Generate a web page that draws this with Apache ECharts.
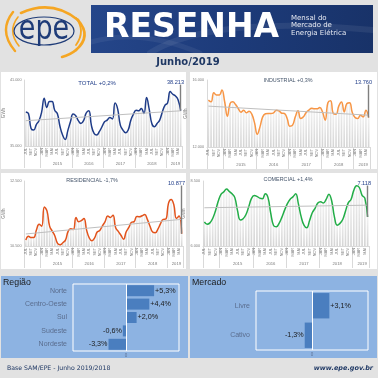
<!DOCTYPE html>
<html>
<head>
<meta charset="utf-8">
<script src="https://cdn.jsdelivr.net/npm/echarts@6/dist/echarts.min.js"></script>
<style>
	html, body { margin: 0; padding: 0; background: #e2e2e2; }
	#chart { width: 378px; height: 378px; }
</style>
</head>
<body>
<div id="chart"></div>
<script>
// ---- data ----
const monthNames = ["JAN", "FEV", "MAR", "ABR", "MAI", "JUN", "JUL", "AGO", "SET", "OUT", "NOV", "DEZ"];
const firstYear = 2014;
const firstMonth = 6; // JUL
const monthCount = 60;
const yearLabels = ["2015", "2016", "2017", "2018", "2019"];

const total = [38100, 37950, 36600, 36450, 36950, 37300, 38050, 39350, 38500, 39050, 39050, 38250,
	37950, 36800, 36000, 35600, 36400, 37200, 37900, 37750, 37300, 37050, 37300, 38000,
	38200, 36850, 36150, 36000, 36300, 36750, 37200, 37350, 37600, 37450, 38900, 38350,
	36900, 36450, 36200, 36450, 37350, 37900, 38250, 38200, 38400, 37950, 39400, 38350,
	37050, 36750, 37050, 37350, 38100, 38700, 38900, 39950, 39700, 39550, 39200, 38213];
const industrial = [14800, 14700, 15240, 15100, 15100, 15400, 14700, 13840, 14600, 14700, 14540, 14300,
	14080, 14200, 14040, 14140, 13960, 13440, 12760, 13200, 13800, 13980, 14000, 14000,
	14040, 14200, 14160, 14020, 14000, 13700, 13240, 13300, 13800, 14160, 13700, 13800,
	14060, 14200, 14320, 14280, 14280, 14360, 14100, 13600, 14640, 14760, 14000, 13960,
	14440, 14680, 14100, 14600, 14640, 14040, 13760, 13700, 13900, 13800, 14200, 13760];
const residential = [10680, 10800, 10760, 10760, 10990, 11170, 11110, 11700, 11580, 11110, 10960, 10810,
	10580, 10540, 10600, 10680, 10950, 11030, 11010, 11380, 11250, 11280, 11350, 10990,
	10750, 10660, 10740, 10930, 10980, 11120, 11250, 11420, 11380, 11450, 11060, 10950,
	10830, 10710, 10940, 11070, 11230, 11250, 11410, 11400, 11430, 11470, 11320, 11110,
	10930, 10910, 11020, 11190, 11320, 11330, 11810, 11930, 11780, 11350, 11420, 10877];
const commercial = [6930, 6840, 6890, 7060, 7350, 7720, 7990, 8080, 8190, 8100, 8010, 7860,
	7350, 7000, 7050, 7200, 7500, 7820, 7940, 7910, 7840, 7820, 8010, 7860,
	7250, 6790, 6740, 6870, 7100, 7380, 7630, 7800, 7890, 8010, 7610, 7120,
	6800, 6700, 6970, 7280, 7450, 7650, 7700, 7650, 7790, 7990, 7740, 7120,
	6800, 6870, 7020, 7340, 7660, 7790, 8140, 8320, 8250, 7950, 7840, 7118];

// trend line start / end values
const totalTrend = [37300, 38200];
const industrialTrend = [14440, 13900];
const residentialTrend = [10870, 11320];
const commercialTrend = [7470, 7570];

const regions = ["Norte", "Centro-Oeste", "Sul", "Sudeste", "Nordeste"];
const regionChange = [5.3, 4.4, 2.0, -0.6, -3.3];
const markets = ["Livre", "Cativo"];
const marketChange = [3.1, -1.3];

// ---- helpers ----
const fmtThousands = v => String(v).replace(/\B(?=(\d{3})+(?!\d))/g, ".");
const fmtPct = v => (v > 0 ? "+" : "") + v.toFixed(1).replace(".", ",") + "%";

const monthKeys = [];
const monthOf = [];
const yearOf = [];
for (let i = 0; i < monthCount; i++) {
	const m = (firstMonth + i) % 12;
	const y = firstYear + Math.floor((firstMonth + i) / 12);
	monthKeys.push(monthNames[m] + "|" + y);
	monthOf.push(m);
	yearOf.push(String(y));
}
// index of the middle month of each year group
const yearMid = {};
yearLabels.forEach(y => {
	const idx = yearOf.map((v, i) => (v === y ? i : -1)).filter(i => i >= 0);
	yearMid[idx[Math.floor(idx.length / 2)]] = y;
});

const lineCharts = [
	{ title: "TOTAL +0,2%", titleColor: "#1f3c88", titleX: 97, titleY: 83, data: total, trend: totalTrend,
		color: "#1f3c88", min: 35000, max: 41000, step: 1000,
		grid: { left: 19, top: 80, width: 163, height: 66 } },
	{ title: "INDUSTRIAL +0,3%", titleColor: "#44546a", titleX: 288, titleY: 81, data: industrial, trend: industrialTrend,
		color: "#f79646", min: 12000, max: 16000, step: 1000,
		grid: { left: 207, top: 80, width: 163, height: 67 } },
	{ title: "RESIDENCIAL -1,7%", titleColor: "#44546a", titleX: 92, titleY: 181, data: residential, trend: residentialTrend,
		color: "#e2531c", min: 10500, max: 12500, step: 500,
		grid: { left: 17, top: 181, width: 166, height: 65 } },
	{ title: "COMERCIAL +1,4%", titleColor: "#44546a", titleX: 288, titleY: 180, data: commercial, trend: commercialTrend,
		color: "#22ad47", min: 6000, max: 8500, step: 500,
		grid: { left: 203, top: 181, width: 166, height: 65 } }
];

const grids = [];
const xAxes = [];
const yAxes = [];
const series = [];
const graphics = [];

// ---- page background pieces ----
const rect = (x, y, width, height, fill, extra) =>
	Object.assign({ type: "rect", z: -10, shape: { x, y, width, height }, style: { fill } }, extra || {});
const text = (x, y, content, font, fill, align, extra) =>
	Object.assign({ type: "text", z: 50, x, y, style: { text: content, font, fill, align: align || "left", verticalAlign: "middle" } }, extra || {});
const curve = (x1, y1, cx, cy, x2, y2, stroke, lineWidth, z) =>
	({ type: "bezierCurve", z: z || 40, shape: { x1, y1, cpx1: cx, cpy1: cy, x2, y2 }, style: { fill: "none", stroke, lineWidth, lineCap: "round" } });

graphics.push(
	rect(1, 72, 185, 97, "#ffffff"),
	rect(190, 72, 187, 97, "#ffffff"),
	rect(1, 173, 185, 96, "#ffffff"),
	rect(190, 173, 187, 96, "#ffffff"),
	rect(1, 276, 187, 82, "#8db3e2"),
	rect(190, 276, 187, 82, "#8db3e2")
);

// header banner
graphics.push(
	rect(91, 5, 282, 48, new echarts.graphic.LinearGradient(0, 0, 1, 1, [
		{ offset: 0, color: "#25468a" },
		{ offset: 0.5, color: "#1d3b7a" },
		{ offset: 1, color: "#183268" }
	])),
	curve(150, 53, 210, 15, 373, 30, "rgba(255,255,255,0.07)", 6, -9),
	curve(91, 42, 140, 28, 200, 53, "rgba(255,255,255,0.06)", 5, -9),
	text(104, 28, "RESENHA", "bold 33px 'DejaVu Sans'", "#ffffff"),
	text(291, 18, "Mensal do", "7px 'DejaVu Sans'", "#e6e9f2"),
	text(291, 25.5, "Mercado de", "7px 'DejaVu Sans'", "#e6e9f2"),
	text(291, 33.5, "Energia Elétrica", "7px 'DejaVu Sans'", "#e6e9f2"),
	text(188, 62, "Junho/2019", "bold 10px 'DejaVu Sans'", "#1f3864", "center")
);

// logo
const orange = "#f5a623";
graphics.push(
	curve(21, 13, 52, -1, 78, 20, orange, 2.6),
	curve(78, 20, 92, 36, 76, 50, orange, 2.6),
	curve(76, 50, 70, 55, 62, 57, orange, 2.6),
	curve(76, 18, 86, 31, 76, 45, orange, 1.8),
	curve(13, 12, -2, 31, 15, 51, orange, 2.4),
	curve(18, 17, 7, 31, 19, 46, orange, 1.6),
	{ type: "ellipse", z: 40, shape: { cx: 44, cy: 31, rx: 30, ry: 14 }, style: { fill: "none", stroke: "#1f3c78", lineWidth: 1.2 } },
	text(44, 30, "epe", "27px 'DejaVu Sans'", "#1f3c78", "center", { scaleY: 1.25 })
);

// footer
graphics.push(
	text(7, 368, "Base SAM/EPE - Junho 2019/2018", "6.2px 'DejaVu Sans'", "#1f3864"),
	text(373, 368, "www.epe.gov.br", "italic bold 6.5px 'DejaVu Sans'", "#1f3864", "right")
);

// ---- line charts ----
lineCharts.forEach((cfg, k) => {
	const g = cfg.grid;
	grids.push(Object.assign({ containLabel: false, show: true, backgroundColor: "#ffffff", borderWidth: 0 }, g));
	const last = cfg.data[cfg.data.length - 1];

	xAxes.push({
		gridIndex: k, type: "category", data: monthKeys, boundaryGap: true,
		axisLine: { lineStyle: { color: "#d9d9d9" } },
		axisTick: { show: false },
		axisLabel: {
			interval: 1, rotate: 90, fontSize: 3.8, color: "#7a7a7a", margin: 2,
			fontFamily: "Liberation Sans",
			formatter: v => v.split("|")[0]
		}
	});
	xAxes.push({
		gridIndex: k, type: "category", data: monthKeys, boundaryGap: true, position: "bottom",
		axisLine: { show: false },
		axisTick: {
			show: true, length: 22, lineStyle: { color: "#d9d9d9" },
			interval: index => index === 0 || monthOf[index] === 0
		},
		axisLabel: {
			interval: index => yearMid[index] !== undefined,
			fontSize: 4.2, color: "#7a7a7a", margin: 15.5, fontFamily: "Liberation Sans",
			formatter: (v, i) => yearMid[i] || ""
		}
	});
	yAxes.push({
		gridIndex: k, type: "value", min: cfg.min, max: cfg.max, interval: cfg.step,
		name: "GWh", nameLocation: "middle", nameGap: 11, nameRotate: 90,
		nameTextStyle: { fontSize: 4.5, color: "#808080", fontFamily: "Liberation Sans" },
		axisLine: { show: true, lineStyle: { color: "#d9d9d9" } },
		axisTick: { show: false },
		splitLine: { show: false },
		axisLabel: {
			fontSize: 3.8, color: "#808080", margin: 3, fontFamily: "Liberation Sans",
			formatter: v => (v === cfg.min || v === cfg.max ? fmtThousands(v) : "")
		}
	});

	series.push({
		type: "bar", xAxisIndex: 2 * k, yAxisIndex: k, data: cfg.data, silent: true,
		barCategoryGap: "40%",
		itemStyle: {
			color: new echarts.graphic.LinearGradient(0, 0, 0, 1, [
				{ offset: 0, color: "#f2f2f2" },
				{ offset: 1, color: "#d4d4d4" }
			])
		},
		z: 1
	});
	series.push({
		type: "line", xAxisIndex: 2 * k, yAxisIndex: k, data: cfg.data, smooth: 0.45,
		showSymbol: false, silent: true,
		lineStyle: { color: cfg.color, width: 1.5 },
		z: 4,
		markLine: {
			silent: true, symbol: ["none", "none"], label: { show: false }, animation: false,
			data: [
				[
					{ coord: [0, cfg.trend[0]], lineStyle: { color: "#bfbfbf", width: 1, type: "solid" } },
					{ coord: [monthCount - 1, cfg.trend[1]] }
				],
				[
					{ coord: [monthCount - 1, cfg.max - (cfg.max - cfg.min) * 0.07], lineStyle: { color: "#7f7f7f", width: 1.4, type: "solid" } },
					{ coord: [monthCount - 1, last] }
				]
			]
		}
	});

	graphics.push(
		text(cfg.titleX, cfg.titleY, cfg.title, (k === 0 ? "6px" : "5.4px") + " 'Liberation Sans'", cfg.titleColor, "center"),
		text(g.left + g.width + 2, g.top + 2, fmtThousands(last), "5.6px 'Liberation Sans'", "#1f3c88", "right")
	);
});

// ---- bottom bar charts ----
const barCharts = [
	{ title: "Região", titleX: 3, titleY: 283, cats: regions, values: regionChange, gap: "18%",
		grid: { left: 73, top: 284, width: 106, height: 67 } },
	{ title: "Mercado", titleX: 192, titleY: 283, cats: markets, values: marketChange, gap: "14%",
		grid: { left: 256, top: 291, width: 112, height: 59 } }
];

barCharts.forEach((cfg, j) => {
	const gi = lineCharts.length + j;
	grids.push(Object.assign({ containLabel: false, show: true, backgroundColor: "transparent", borderColor: "#ffffff", borderWidth: 1 }, cfg.grid));
	xAxes.push({
		gridIndex: gi, type: "value", min: -10, max: 10, interval: 10,
		axisLine: { show: false }, axisTick: { show: false }, splitLine: { show: false },
		axisLabel: { fontSize: 4.5, color: "#5d7396", margin: 2, formatter: v => (v === 0 ? "0" : "") }
	});
	yAxes.push({
		gridIndex: gi, type: "category", data: cfg.cats, inverse: true,
		axisLine: { show: false, onZero: false }, axisTick: { show: false },
		axisLabel: { fontSize: 7, color: "#5a6d8e", margin: 6, fontFamily: "Liberation Sans" }
	});
	series.push({
		type: "bar", xAxisIndex: xAxes.length - 1, yAxisIndex: yAxes.length - 1, silent: true,
		barCategoryGap: cfg.gap,
		data: cfg.values.map(v => ({ value: v, label: { position: v >= 0 ? "right" : "left" } })),
		itemStyle: { color: "#4a7ebf" },
		label: {
			show: true, distance: 1, fontSize: 7.2, color: "#1a1a1a", fontFamily: "Liberation Sans",
			formatter: p => fmtPct(p.value)
		},
		markLine: {
			silent: true, symbol: ["none", "none"], label: { show: false }, animation: false,
			lineStyle: { color: "#ffffff", width: 1, type: "solid" },
			data: [{ xAxis: 0 }]
		}
	});
	graphics.push(text(cfg.titleX, cfg.titleY, cfg.title, "8.8px 'Liberation Sans'", "#1a1a1a"));
});

const chart = echarts.init(document.getElementById("chart"), null, { renderer: "canvas" });
chart.setOption({
	animation: false,
	backgroundColor: "#e2e2e2",
	graphic: { elements: graphics },
	grid: grids,
	xAxis: xAxes,
	yAxis: yAxes,
	series
});
</script>
</body>
</html>
